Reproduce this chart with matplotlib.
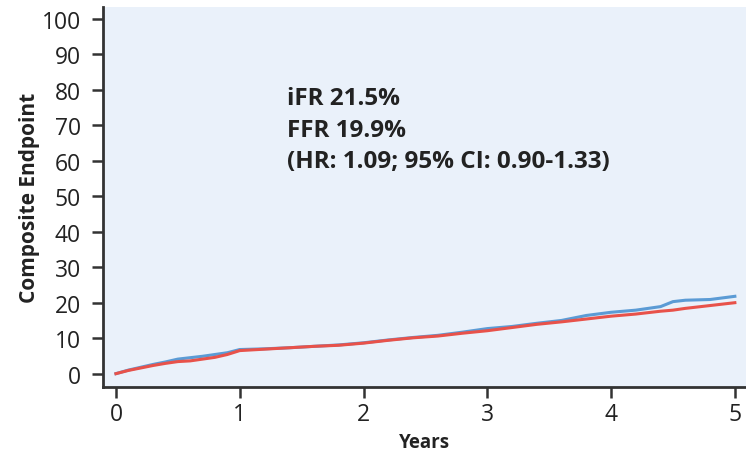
import matplotlib.pyplot as plt

# cumulative event curves
years = [0.0, 0.1, 0.2, 0.3, 0.4, 0.5, 0.6, 0.7, 0.8, 0.9, 1.0, 1.2, 1.4,
         1.6, 1.8, 2.0, 2.2, 2.4, 2.6, 2.8, 3.0, 3.2, 3.4, 3.6, 3.8, 4.0,
         4.2, 4.4, 4.5, 4.6, 4.8, 5.0]
ifr = [0.0, 1.0, 1.8, 2.6, 3.3, 4.1, 4.5, 4.9, 5.4, 5.9, 6.8, 7.0, 7.3,
       7.7, 8.1, 8.7, 9.5, 10.2, 10.8, 11.7, 12.7, 13.3, 14.2, 15.0, 16.4, 17.3,
       17.9, 18.9, 20.3, 20.7, 20.9, 21.8]
ffr = [0.0, 0.9, 1.6, 2.3, 2.9, 3.4, 3.6, 4.1, 4.6, 5.4, 6.5, 6.9, 7.3,
       7.7, 8.0, 8.6, 9.4, 10.1, 10.6, 11.4, 12.1, 13.0, 13.9, 14.6, 15.4, 16.2,
       16.8, 17.6, 17.9, 18.4, 19.2, 20.0]

plt.rcParams['font.family'] = ['Open Sans', 'DejaVu Sans']

fig = plt.figure(figsize=(7.46, 4.6), dpi=100)
ax = fig.add_axes([0.138, 0.157, 0.862, 0.826])
ax.set_facecolor('#eaf1fa')

ax.plot(years, ifr, color='#5b9bd5', lw=2.2)
ax.plot(years, ffr, color='#e8524a', lw=2.2)

ax.set_xlim(-0.105, 5.09)
ax.set_ylim(-3.7, 103.4)
ax.set_xticks(range(6))
ax.set_yticks(range(0, 101, 10))

for s in ['top', 'right']:
    ax.spines[s].set_visible(False)
for s in ['left', 'bottom']:
    ax.spines[s].set_linewidth(2)
    ax.spines[s].set_color('#333333')
ax.tick_params(direction='out', length=8, width=1.8, color='#333333',
               labelsize=16.5, labelcolor='#222222')
ax.tick_params(axis='y', pad=8)
ax.tick_params(axis='x', pad=3)

ax.set_xlabel('Years', fontsize=13.5, fontweight='bold', color='#222222', labelpad=4)
ax.set_ylabel('Composite Endpoint', fontsize=15, fontweight='bold', color='#222222',
              labelpad=1)

ax.text(1.38, 81, 'iFR 21.5%\nFFR 19.9%\n(HR: 1.09; 95% CI: 0.90-1.33)',
        fontsize=17.5, fontweight='bold', color='#222222', va='top',
        linespacing=1.42)

fig.savefig('out.png')
